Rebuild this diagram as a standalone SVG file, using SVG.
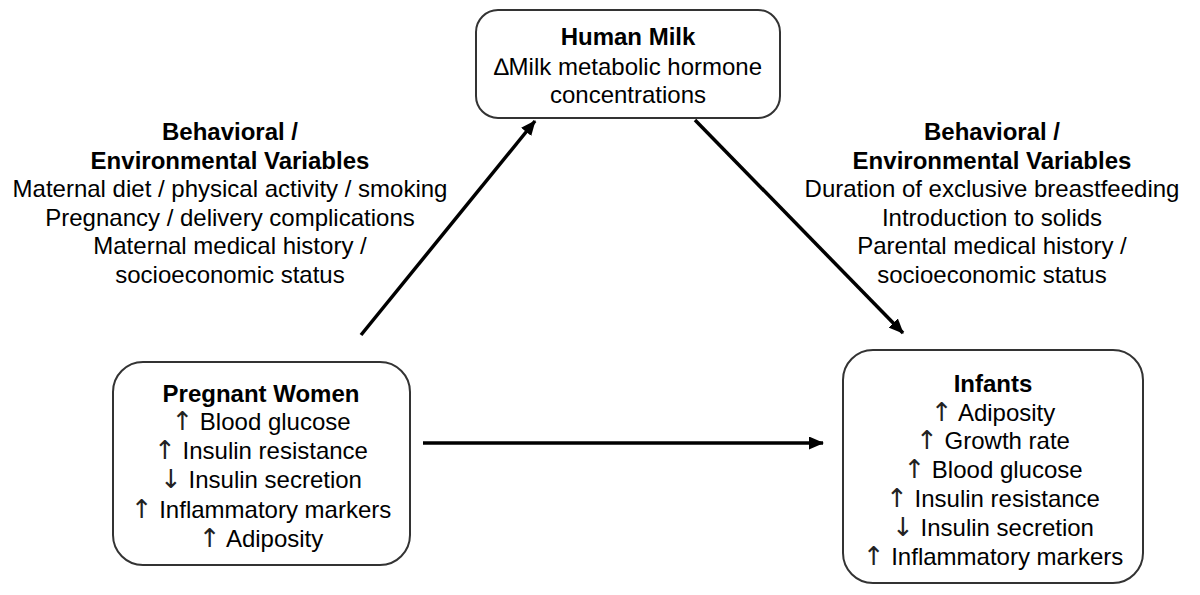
<svg xmlns="http://www.w3.org/2000/svg" width="1200" height="595" viewBox="0 0 1200 595">
<style>
text{font-family:"Liberation Sans",Arial,sans-serif;font-size:24px;fill:#000;text-anchor:middle}
.b{font-weight:bold}
.s{font-family:"DejaVu Sans",sans-serif;font-size:26px;fill:#222}
.box{fill:#fff;stroke:#333;stroke-width:2}
.arr{stroke:#000;stroke-width:3.5;fill:none;marker-end:url(#ah)}
</style>
<defs>
<marker id="ah" markerWidth="15" markerHeight="13" refX="14" refY="6.5" orient="auto" markerUnits="userSpaceOnUse" viewBox="0 0 15 13">
<path d="M0,0 L15,6.5 L0,13 z" fill="#000"/>
</marker>
</defs>
<rect width="1200" height="595" fill="#fff"/>
<g id="connectors">
<line class="arr" x1="361" y1="335" x2="535" y2="121"/>
<line class="arr" x1="695" y1="120" x2="903" y2="333"/>
<line class="arr" x1="423" y1="443" x2="823" y2="443"/>
</g>
<g id="human-milk">
<rect class="box" x="476" y="10" width="304" height="108" rx="22"/>
<text class="b" x="628" y="45">Human Milk</text>
<text x="628" y="75">∆Milk metabolic hormone</text>
<text x="628" y="103">concentrations</text>
</g>
<g id="pregnant-women">
<rect class="box" x="113" y="362" width="297" height="203" rx="30"/>
<text class="b" x="261" y="402">Pregnant Women</text>
<text x="261" y="430"><tspan class="s">↑</tspan> Blood glucose</text>
<text x="261" y="459"><tspan class="s">↑</tspan> Insulin resistance</text>
<text x="261" y="488"><tspan class="s">↓</tspan> Insulin secretion</text>
<text x="261" y="518"><tspan class="s">↑</tspan> Inflammatory markers</text>
<text x="261" y="547"><tspan class="s">↑</tspan> Adiposity</text>
</g>
<g id="infants">
<rect class="box" x="843" y="350" width="300" height="233" rx="30"/>
<text class="b" x="993" y="392">Infants</text>
<text x="993" y="421"><tspan class="s">↑</tspan> Adiposity</text>
<text x="993" y="449"><tspan class="s">↑</tspan> Growth rate</text>
<text x="993" y="478"><tspan class="s">↑</tspan> Blood glucose</text>
<text x="993" y="507"><tspan class="s">↑</tspan> Insulin resistance</text>
<text x="993" y="536"><tspan class="s">↓</tspan> Insulin secretion</text>
<text x="993" y="565"><tspan class="s">↑</tspan> Inflammatory markers</text>
</g>
<g id="maternal-variables">
<text class="b" x="230" y="140">Behavioral /</text>
<text class="b" x="230" y="169">Environmental Variables</text>
<text x="230" y="197">Maternal diet / physical activity / smoking</text>
<text x="230" y="226">Pregnancy / delivery complications</text>
<text x="230" y="254">Maternal medical history /</text>
<text x="230" y="283">socioeconomic status</text>
</g>
<g id="infant-variables">
<text class="b" x="992" y="140">Behavioral /</text>
<text class="b" x="992" y="169">Environmental Variables</text>
<text x="992" y="197">Duration of exclusive breastfeeding</text>
<text x="992" y="226">Introduction to solids</text>
<text x="992" y="254">Parental medical history /</text>
<text x="992" y="283">socioeconomic status</text>
</g>
</svg>
